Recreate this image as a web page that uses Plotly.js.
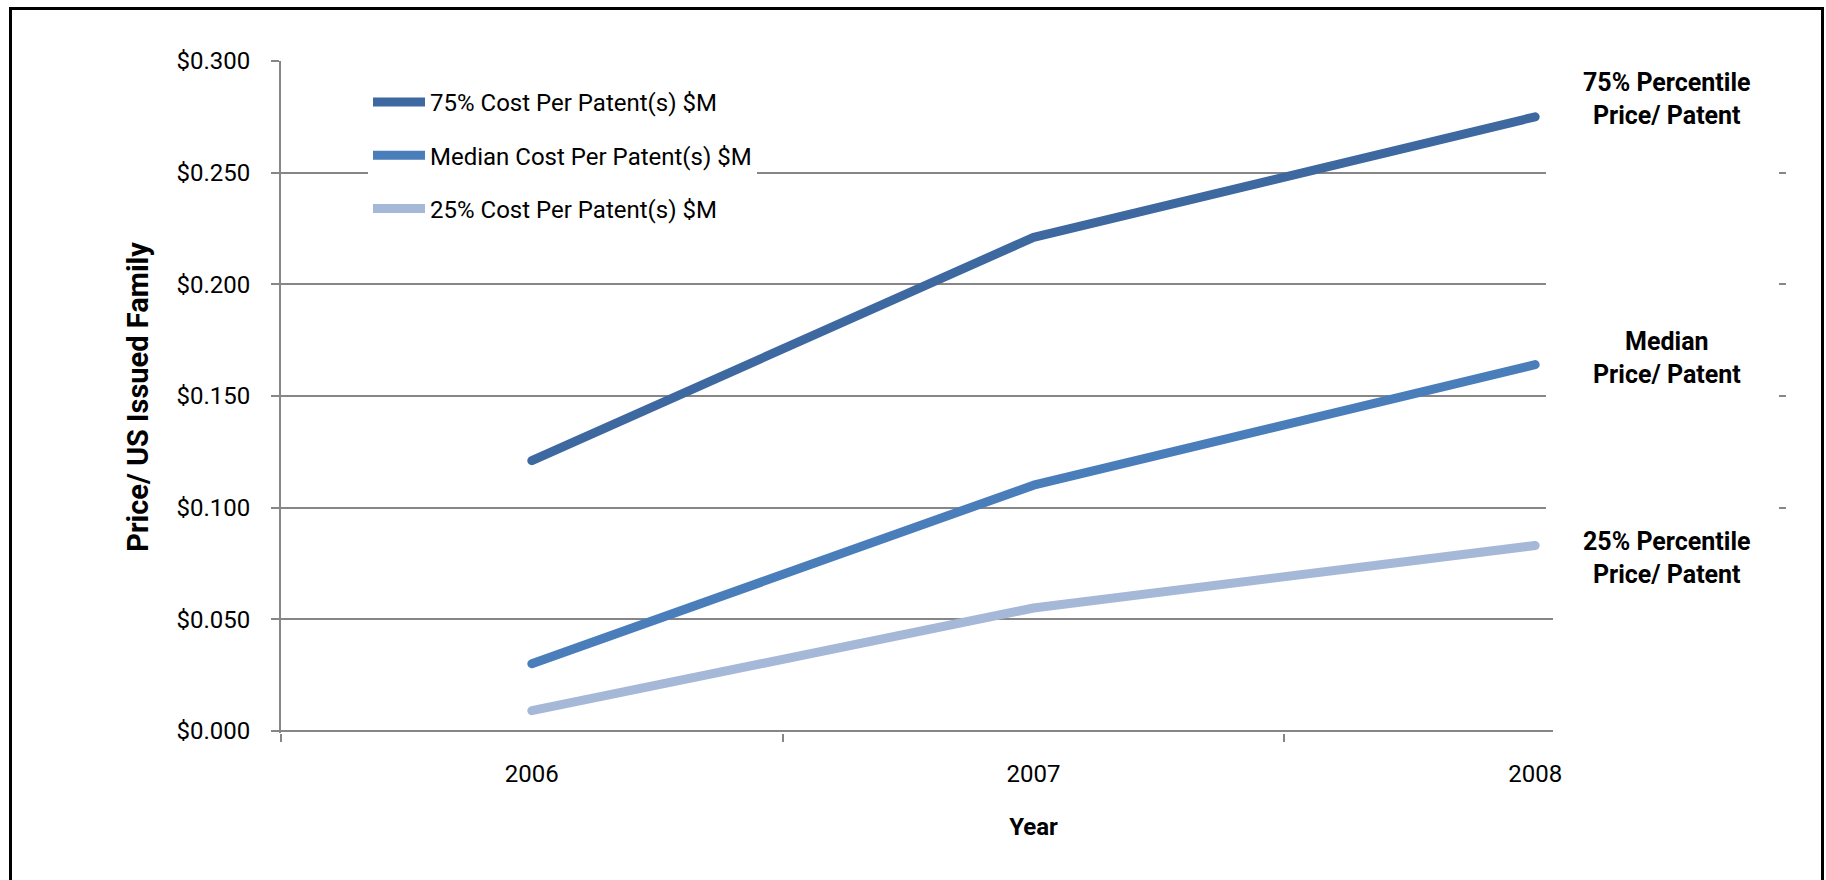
<!DOCTYPE html>
<html>
<head>
<meta charset="utf-8">
<script src="https://cdn.plot.ly/plotly-3.0.1.min.js"></script>
<style>
html,body{margin:0;padding:0;background:#fff;}
#chart{width:1826px;height:880px;}
#chart .scatterlayer .js-line{stroke-linecap:round;stroke-linejoin:round;}
</style>
</head>
<body>
<div id="chart"></div>
<script>
const years = [2006, 2007, 2008];
const seriesNames = ['75% Cost Per Patent(s) $M', 'Median Cost Per Patent(s) $M', '25% Cost Per Patent(s) $M'];
const p75 = [0.121, 0.221, 0.275];
const median = [0.030, 0.110, 0.164];
const p25 = [0.009, 0.055, 0.083];
const yTickVals = [0, 0.05, 0.1, 0.15, 0.2, 0.25, 0.3];
const sideLabels = ['75% Percentile<br>Price/ Patent', 'Median<br>Price/ Patent', '25% Percentile<br>Price/ Patent'];
const sideLabelY = [0.2832, 0.167, 0.0772];

const FONT = 'Roboto, "Noto Sans", sans-serif';
const colors = ['#3D68A0', '#4A7EBB', '#A5B8D7'];
const values = [p75, median, p25];
// category boundaries (tick marks between years, not after the last one)
const boundaries = years.map(y => y - 0.5);

const traces = values.map((v, i) => ({
  type: 'scatter', mode: 'lines', x: years, y: v, name: seriesNames[i],
  legendgroup: 'g' + i,
  line: {color: colors[i], width: 9},
  hoverinfo: 'skip'
}));

// plot area in pixels: x 281..1786, y 61..733 (value 0 sits at 731)
const W = 1826, H = 880, L = 281, R = 1786, T = 61, B = 733;
const px = x => (x - L) / (R - L);
const py = y => (B - y) / (B - T);

const layout = {
  width: W, height: H,
  margin: {l: L, r: W - R, t: T, b: H - B, pad: 0},
  paper_bgcolor: '#fff', plot_bgcolor: '#fff',
  font: {family: FONT, size: 24, color: '#000'},
  showlegend: true,
  legend: {
    x: px(368), y: py(80), xanchor: 'left', yanchor: 'top',
    bgcolor: '#fff', borderwidth: 0, itemwidth: 52,
    font: {family: FONT, size: 24, color: '#000'},
    traceorder: 'grouped', tracegroupgap: 19
  },
  xaxis: {
    type: 'linear', range: [2005.5, 2008.5], fixedrange: true,
    tickvals: years, tickformat: 'd',
    showgrid: false, showline: false, zeroline: false,
    ticks: '',
    minor: {tickvals: boundaries, ticks: 'outside', ticklen: 8, tickcolor: '#868686', tickwidth: 2, showgrid: false},
    ticklabelstandoff: 24,
    tickfont: {family: FONT, size: 24, color: '#000'},
    title: {text: '<b>Year</b>', font: {family: FONT, size: 24, color: '#000'}, standoff: 31}
  },
  yaxis: {
    range: [-0.001, 0.3], fixedrange: true,
    tickvals: yTickVals, tickformat: '$.3f',
    showgrid: true, gridcolor: '#868686', gridwidth: 2,
    zeroline: true, zerolinecolor: '#868686', zerolinewidth: 2,
    showline: true, linecolor: '#868686', linewidth: 2,
    ticks: 'outside', ticklen: 8, tickcolor: '#868686', tickwidth: 2,
    ticklabelstandoff: 16,
    tickfont: {family: FONT, size: 24, color: '#000'},
    title: {text: '<b>Price/ US Issued Family</b>', font: {family: FONT, size: 29, color: '#000'}, standoff: 19}
  },
  shapes: [
    {type: 'rect', xref: 'paper', yref: 'y', layer: 'above', x0: px(1546), x1: px(1779), y0: 0.075, y1: 0.31, fillcolor: '#fff', line: {width: 0}},
    {type: 'rect', xref: 'paper', yref: 'y', layer: 'above', x0: px(1553), x1: px(1800), y0: -0.012, y1: 0.076, fillcolor: '#fff', line: {width: 0}},
    {type: 'rect', xref: 'paper', yref: 'paper', layer: 'above', x0: px(10.5), x1: px(1822.5), y0: py(905), y1: py(8.5), fillcolor: 'rgba(0,0,0,0)', line: {color: '#000', width: 3}}
  ],
  annotations: sideLabels.map((t, i) => ({
    text: '<b>' + t + '</b>', xref: 'paper', yref: 'y', x: px(1667), y: sideLabelY[i],
    xanchor: 'center', yanchor: 'middle', showarrow: false, align: 'center',
    font: {family: FONT, size: 25, color: '#000'}
  }))
};

Plotly.newPlot('chart', traces, layout, {displayModeBar: false, staticPlot: true});
</script>
</body>
</html>
